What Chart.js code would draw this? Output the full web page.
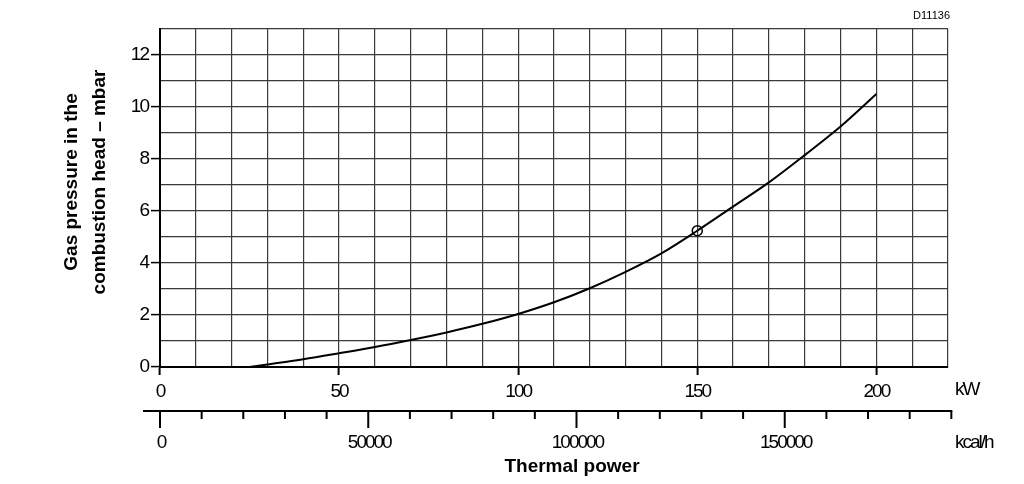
<!DOCTYPE html>
<html>
<head>
<meta charset="utf-8">
<script src="https://cdn.jsdelivr.net/npm/chart.js@4/dist/chart.umd.min.js"></script>
<style>
html,body{margin:0;padding:0;background:#fff;}
#wrap{width:1024px;height:484px;position:relative;}
</style>
</head>
<body>
<div id="wrap"><canvas id="c" width="1024" height="484"></canvas></div>
<script>
// ---- data ----
const powerKW = [25, 30, 40, 50, 60, 70, 80, 90, 100, 110, 120, 130, 140, 150, 160, 170, 180, 190, 200];
const pressureMbar = [0, 0.1, 0.3, 0.53, 0.77, 1.04, 1.33, 1.66, 2.04, 2.49, 3.03, 3.66, 4.37, 5.24, 6.17, 7.1, 8.15, 9.25, 10.5];
const markerKW = [150];
const markerMbar = [5.24];
const kwLabelTicks = [0, 50, 100, 150, 200];
const yLabelTicks = [0, 2, 4, 6, 8, 10, 12];
const kcalTicks = [0, 10000, 20000, 30000, 40000, 50000, 60000, 70000, 80000, 90000, 100000, 110000, 120000, 130000, 140000, 150000, 160000, 170000, 180000, 190000];
const kcalLabelTicks = [0, 50000, 100000, 150000];
const KCAL_PER_KW = 860;
const yTitle = ['Gas pressure in the', 'combustion head \u2013 mbar'];
const xTitle = 'Thermal power';
const unitKW = 'kW';
const unitKcal = 'kcal/h';
const drawingCode = 'D11136';

const SANS = '"Liberation Sans", Arial, sans-serif';

const tight = {
  id: 'tight',
  beforeDraw(chart) { chart.ctx.letterSpacing = '-2px'; }
};

const extras = {
  id: 'extras',
  afterDraw(chart) {
    const ctx = chart.ctx;
    const xs = chart.scales.x;
    const px = v => xs.getPixelForValue(v / KCAL_PER_KW);
    const axisY = 411;
    ctx.save();
    ctx.strokeStyle = '#000';
    ctx.lineWidth = 2;
    ctx.beginPath();
    ctx.moveTo(143, axisY);
    ctx.lineTo(px(kcalTicks[kcalTicks.length - 1]) + 1, axisY);
    ctx.stroke();
    kcalTicks.forEach(v => {
      const major = kcalLabelTicks.includes(v);
      ctx.beginPath();
      ctx.moveTo(px(v), axisY);
      ctx.lineTo(px(v), axisY + (major ? 17 : 8));
      ctx.stroke();
    });
    ctx.fillStyle = '#000';
    ctx.letterSpacing = '-2px';
    ctx.font = '19px ' + SANS;
    ctx.textAlign = 'center';
    ctx.textBaseline = 'middle';
    kcalLabelTicks.forEach(v => ctx.fillText(String(v), px(v) + 1, 443));
    ctx.textAlign = 'left';
    ctx.fillText(unitKcal, 955, 443);
    ctx.fillText(unitKW, 955, 390);
    ctx.letterSpacing = '0px';
    // x title
    ctx.font = 'bold 19px ' + SANS;
    ctx.textAlign = 'center';
    ctx.fillText(xTitle, 572, 467);
    // y title
    ctx.save();
    ctx.translate(86, 182);
    ctx.rotate(-Math.PI / 2);
    ctx.fillText(yTitle[0], 0, -14);
    ctx.fillText(yTitle[1], 0, 14);
    ctx.restore();
    ctx.font = '11px ' + SANS;
    ctx.textAlign = 'right';
    ctx.fillText(drawingCode, 950, 16);
    ctx.restore();
  }
};

new Chart(document.getElementById('c'), {
  type: 'line',
  data: {
    datasets: [
      {
        data: powerKW.map((k, i) => ({x: k, y: pressureMbar[i]})),
        borderColor: '#000',
        borderWidth: 2,
        pointRadius: 0,
        cubicInterpolationMode: 'monotone',
        fill: false
      },
      {
        data: markerKW.map((k, i) => ({x: k, y: markerMbar[i]})),
        showLine: false,
        pointRadius: 5,
        pointBorderWidth: 1.5,
        pointBorderColor: '#000',
        pointBackgroundColor: 'rgba(0,0,0,0)'
      }
    ]
  },
  options: {
    responsive: false,
    animation: false,
    events: [],
    layout: {padding: {left: 0, right: 76, top: 29, bottom: 0}},
    plugins: {legend: {display: false}, tooltip: {enabled: false}},
    scales: {
      x: {
        type: 'linear',
        min: 0, max: 220,
        afterFit(s) { s.height = 117; },
        ticks: {
          stepSize: 10,
          autoSkip: false,
          maxRotation: 0,
          padding: 5,
          color: '#000',
          font: {family: SANS, size: 19},
          callback: v => kwLabelTicks.includes(v) ? String(v) : ''
        },
        grid: {
          color: '#3a3a3a',
          lineWidth: 1.2,
          tickLength: 8,
          tickColor: c => (c.tick && kwLabelTicks.includes(c.tick.value)) ? '#000' : 'rgba(0,0,0,0)',
          tickWidth: 2
        },
        border: {display: true, color: '#000', width: 2}
      },
      y: {
        min: 0, max: 13,
        afterFit(s) { s.width = 160; },
        ticks: {
          stepSize: 1,
          autoSkip: false,
          padding: 3,
          color: '#000',
          font: {family: SANS, size: 19},
          callback: v => yLabelTicks.includes(v) ? String(v) : ''
        },
        grid: {
          color: '#3a3a3a',
          lineWidth: 1.2,
          tickLength: 9,
          tickColor: c => (c.tick && yLabelTicks.includes(c.tick.value)) ? '#000' : 'rgba(0,0,0,0)',
          tickWidth: 1.5
        },
        border: {display: true, color: '#000', width: 2}
      }
    }
  },
  plugins: [tight, extras]
});
</script>
</body>
</html>
